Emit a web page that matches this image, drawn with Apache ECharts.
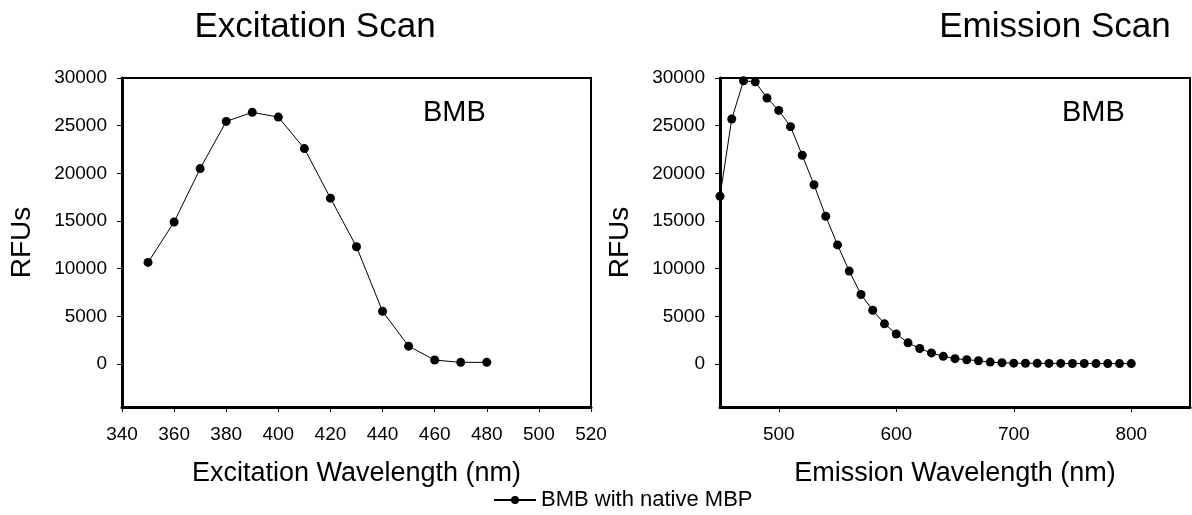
<!DOCTYPE html>
<html>
<head>
<meta charset="utf-8">
<script src="https://cdn.jsdelivr.net/npm/echarts@6/dist/echarts.min.js"></script>
<style>
html,body{margin:0;padding:0;background:#fff;}
#chart{width:1192px;height:515px;}
</style>
</head>
<body>
<div id="chart"></div>
<script>
// Excitation scan data
const excWavelengths = [350,360,370,380,390,400,410,420,430,440,450,460,470,480];
const excRFU = [10660,14900,20500,25450,26400,25900,22600,17400,12300,5530,1880,425,180,180];
// Emission scan data
const emWavelengths = [450,460,470,480,490,500,510,520,530,540,550,560,570,580,590,600,610,620,630,640,650,660,670,680,690,700,710,720,730,740,750,760,770,780,790,800];
const emRFU = [17600,25700,29700,29600,27900,26600,24900,21900,18800,15500,12500,9750,7300,5640,4220,3160,2230,1630,1170,815,570,460,355,210,140,100,90,80,70,70,60,60,50,50,50,50];
// Tick labels
const yTicks = [0,5000,10000,15000,20000,25000,30000];
const excXTicks = [340,360,380,400,420,440,460,480,500,520];
const emXTicks = [500,600,700,800];
const seriesName = 'BMB with native MBP';

const FONT = 'Liberation Sans, Arial, sans-serif';
const chart = echarts.init(document.getElementById('chart'), null, {renderer:'canvas'});

function xAxisCfg(idx, min, max, ticks, name){
  return {
    type:'value', gridIndex:idx, min:min, max:max,
    name:name, nameLocation:'middle', nameGap:53,
    nameTextStyle:{color:'#000', fontSize:27, fontFamily:FONT},
    axisLine:{show:true, onZero:false, lineStyle:{color:'#000', width:3}},
    axisTick:{show:true, inside:false, length:5, customValues:ticks, lineStyle:{color:'#000', width:1}},
    axisLabel:{color:'#000', fontSize:19, fontFamily:FONT, margin:18, customValues:ticks, formatter:v=>String(v)},
    splitLine:{show:false}
  };
}
function yAxisCfg(idx){
  return {
    type:'value', gridIndex:idx, min:-4500, max:30000,
    name:'RFUs', nameLocation:'middle', nameGap:86, nameRotate:90,
    nameTextStyle:{color:'#000', fontSize:28, fontFamily:FONT},
    axisLine:{show:true, onZero:false, lineStyle:{color:'#000', width:3}},
    axisTick:{show:true, inside:false, length:5, customValues:yTicks, lineStyle:{color:'#000', width:1}},
    axisLabel:{color:'#000', fontSize:19, fontFamily:FONT, margin:15, customValues:yTicks, formatter:v=>String(v)},
    splitLine:{show:false}
  };
}
function lineSeries(idx, xs, ys){
  return {
    name:seriesName, type:'line', xAxisIndex:idx, yAxisIndex:idx,
    data:xs.map((x,i)=>[x, ys[i]]),
    symbol:'circle', symbolSize:9, clip:false,
    itemStyle:{color:'#000'},
    lineStyle:{color:'#000', width:1},
    emphasis:{disabled:true}
  };
}

chart.setOption({
  animation:false,
  backgroundColor:'#fff',
  title:[
    {text:'Excitation Scan', left:310, top:5, textAlign:'center', textStyle:{fontSize:35, fontWeight:'normal', color:'#000', fontFamily:FONT}},
    {text:'Emission Scan', left:1050, top:5, textAlign:'center', textStyle:{fontSize:35, fontWeight:'normal', color:'#000', fontFamily:FONT}}
  ],
  grid:[
    {left:122, top:78, width:469, height:329, show:true, borderColor:'#000', borderWidth:2, backgroundColor:'transparent'},
    {left:720, top:78, width:470, height:329, show:true, borderColor:'#000', borderWidth:2, backgroundColor:'transparent'}
  ],
  xAxis:[
    xAxisCfg(0, 340, 520, excXTicks, 'Excitation Wavelength (nm)'),
    xAxisCfg(1, 450, 850, emXTicks, 'Emission Wavelength (nm)')
  ],
  yAxis:[yAxisCfg(0), yAxisCfg(1)],
  legend:{
    show:true, data:[seriesName], left:488, top:484, itemWidth:42, itemHeight:10, itemGap:10,
    textStyle:{color:'#000', fontSize:22, fontFamily:FONT}
  },
  graphic:[
    {type:'text', left:423, top:98, style:{text:'BMB', fontSize:29, fill:'#000', fontFamily:FONT}},
    {type:'text', left:1062, top:98, style:{text:'BMB', fontSize:29, fill:'#000', fontFamily:FONT}}
  ],
  series:[
    lineSeries(0, excWavelengths, excRFU),
    lineSeries(1, emWavelengths, emRFU)
  ]
});
</script>
</body>
</html>
